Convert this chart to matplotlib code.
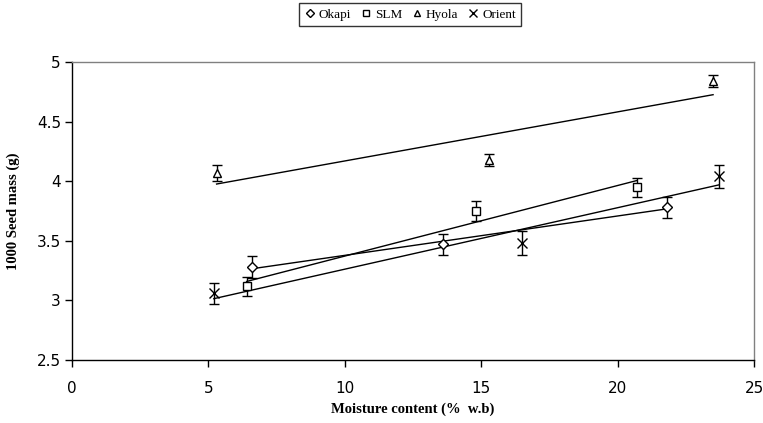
import numpy as np
import matplotlib
matplotlib.use("Agg")
import matplotlib.pyplot as plt
from matplotlib.lines import Line2D

# Moisture content (% w.b) and 1000 seed mass (g) for each variety
okapi_x = [6.6, 13.6, 21.8]
okapi_y = [3.28, 3.47, 3.78]
okapi_err = [0.09, 0.09, 0.09]

slm_x = [6.4, 14.8, 20.7]
slm_y = [3.12, 3.75, 3.95]
slm_err = [0.08, 0.08, 0.08]

hyola_x = [5.3, 15.3, 23.5]
hyola_y = [4.07, 4.18, 4.84]
hyola_err = [0.07, 0.05, 0.05]

orient_x = [5.2, 16.5, 23.7]
orient_y = [3.06, 3.48, 4.04]
orient_err = [0.09, 0.10, 0.10]

series = [
    ("Okapi", okapi_x, okapi_y, okapi_err, "D", 5),
    ("SLM", slm_x, slm_y, slm_err, "s", 6),
    ("Hyola", hyola_x, hyola_y, hyola_err, "^", 6),
    ("Orient", orient_x, orient_y, orient_err, "x", 7),
]

x_ticks = [0, 5, 10, 15, 20, 25]
y_ticks = [2.5, 3, 3.5, 4, 4.5, 5]

fig = plt.figure(figsize=(7.63, 4.23), dpi=100)
ax = fig.add_axes([72 / 763, 1 - 360 / 423, (754 - 72) / 763, (360 - 62) / 423])

handles = []
for name, xs, ys, es, mk, ms in series:
    xs = np.asarray(xs)
    ys = np.asarray(ys)
    # linear trend line over the measured range
    slope, icpt = np.polyfit(xs, ys, 1)
    xl = np.array([xs.min(), xs.max()])
    ax.plot(xl, slope * xl + icpt, color="black", lw=1.0, zorder=2)
    ax.errorbar(xs, ys, yerr=es, fmt=mk, ms=ms,
                mfc="white" if mk != "x" else "black",
                mec="black", mew=1.0, ecolor="black", elinewidth=1.0,
                capsize=3.5, capthick=1.0, zorder=3)
    handles.append(Line2D([], [], ls="none", marker=mk,
                          ms=ms - 1 if mk != "x" else 6,
                          mfc="white", mec="black", mew=1.0, label=name))

ax.set_xlim(0, 25)
ax.set_ylim(2.5, 5)
ax.set_xticks(x_ticks)
ax.set_yticks(y_ticks)
ax.set_xticklabels([str(t) for t in x_ticks])
ax.set_yticklabels([f"{t:g}" for t in y_ticks])

for side in ("left", "bottom"):
    ax.spines[side].set_color("black")
    ax.spines[side].set_linewidth(1.0)
for side in ("top", "right"):
    ax.spines[side].set_color("#808080")
    ax.spines[side].set_linewidth(1.0)

ax.tick_params(axis="both", direction="out", length=5, width=1.0, color="black",
               labelsize=11)
ax.tick_params(axis="x", pad=10)
ax.tick_params(axis="y", pad=3)
for lab in ax.get_xticklabels() + ax.get_yticklabels():
    lab.set_fontfamily("DejaVu Sans")

ax.set_xlabel("Moisture content (%  w.b)", fontfamily="Liberation Serif",
              fontweight="bold", fontsize=10.5, labelpad=5)
ax.set_ylabel("1000 Seed mass (g)", fontfamily="Liberation Serif",
              fontweight="bold", fontsize=10.5, labelpad=12)

leg = fig.legend(handles=handles, loc="upper center",
                 bbox_to_anchor=(410 / 763, 1 - 3 / 423), ncol=4,
                 frameon=True, fancybox=False, shadow=False,
                 prop={"family": "Liberation Serif", "size": 9.5},
                 handlelength=0.8, handletextpad=0.3, columnspacing=0.7,
                 borderpad=0.4, borderaxespad=0.0)
leg.get_frame().set_edgecolor("black")
leg.get_frame().set_linewidth(1.0)

fig.savefig("out.png", dpi=100, facecolor="white")
